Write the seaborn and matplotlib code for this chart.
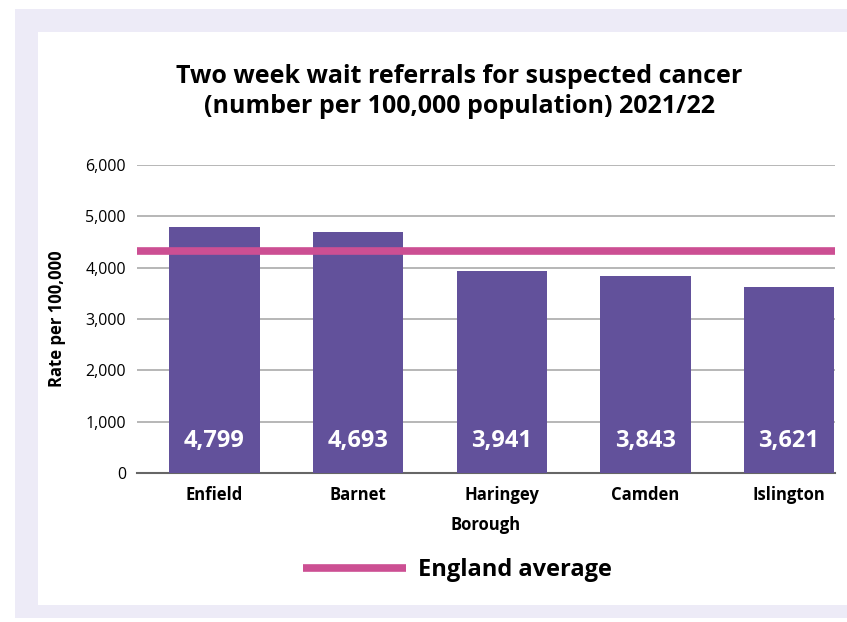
import numpy as np
import pandas as pd
import matplotlib
matplotlib.use("Agg")
import matplotlib.pyplot as plt
import seaborn as sns
from matplotlib.patches import Rectangle
from matplotlib.lines import Line2D

boroughs = ["Enfield", "Barnet", "Haringey", "Camden", "Islington"]
rates = [4799, 4693, 3941, 3843, 3621]
england_avg = 4330

bar_col = "#62519B"
pink = "#CC4F93"
lav = "#EDEBF7"

sns.set_theme(style="white")
plt.rcParams["font.family"] = ["Open Sans", "DejaVu Sans"]
plt.rcParams["text.color"] = "black"
plt.rcParams["axes.labelcolor"] = "black"
plt.rcParams["xtick.color"] = "black"
plt.rcParams["ytick.color"] = "black"

df = pd.DataFrame({"Borough": boroughs, "Rate": rates})

fig = plt.figure(figsize=(8.47, 6.22), dpi=100)
fig.patch.set_facecolor("white")
# framed panel
fig.add_artist(Rectangle((15 / 847, 4 / 622), 1, (613 - 4) / 622, transform=fig.transFigure,
                         facecolor=lav, edgecolor="none", zorder=-2))
fig.add_artist(Rectangle((38 / 847, 17 / 622), 1, (590 - 17) / 622, transform=fig.transFigure,
                         facecolor="white", edgecolor="none", zorder=-1))

ax = fig.add_axes([137 / 847, 149 / 622, (835 - 137) / 847, (473 - 165) / 622])
ax.set_facecolor("none")
sns.barplot(data=df, x="Borough", y="Rate", color=bar_col, width=0.63,
            saturation=1, linewidth=0, edgecolor="none", ax=ax, zorder=3)

ax.axhline(england_avg, color=pink, lw=5.5, zorder=4, solid_capstyle="butt")

for i, v in enumerate(rates):
    ax.text(i, 620, f"{v:,}", color="white", fontsize=17, fontweight="bold",
            ha="center", va="center", zorder=5)

ax.set_ylim(0, 6000)
ax.set_xlim(-0.54, 4.32)
ax.set_yticks(np.arange(0, 6001, 1000))
ax.yaxis.set_major_formatter(matplotlib.ticker.FuncFormatter(lambda v, p: f"{int(v):,}"))
ax.grid(axis="y", color="#AAAAAA", lw=1.2, zorder=0)
ax.set_axisbelow(True)
for s in ["left", "right", "top"]:
    ax.spines[s].set_visible(False)
ax.spines["bottom"].set_color("#666666")
ax.spines["bottom"].set_linewidth(1.5)
ax.tick_params(axis="y", labelsize=11.5, pad=8, length=0)
ax.tick_params(axis="x", labelsize=12, pad=9, length=0)
for t in ax.get_xticklabels():
    t.set_fontweight("bold")

ax.set_xlabel("Borough", fontsize=12, fontweight="bold", labelpad=9)
ax.set_ylabel("Rate per 100,000", fontsize=12, fontweight="bold", labelpad=14)

fig.text(0.542, 0.853, "Two week wait referrals for suspected cancer\n(number per 100,000 population) 2021/22",
         ha="center", va="center", fontsize=18, fontweight="bold", linespacing=1.3)

handle = Line2D([], [], color=pink, lw=5.5, solid_capstyle="butt")
fig.legend([handle], ["England average"], loc="center", bbox_to_anchor=(0.54, 0.083),
           frameon=False, prop={"weight": "bold", "size": 17},
           handlelength=4.4, handletextpad=0.5)

fig.savefig("out.png", dpi=100)
